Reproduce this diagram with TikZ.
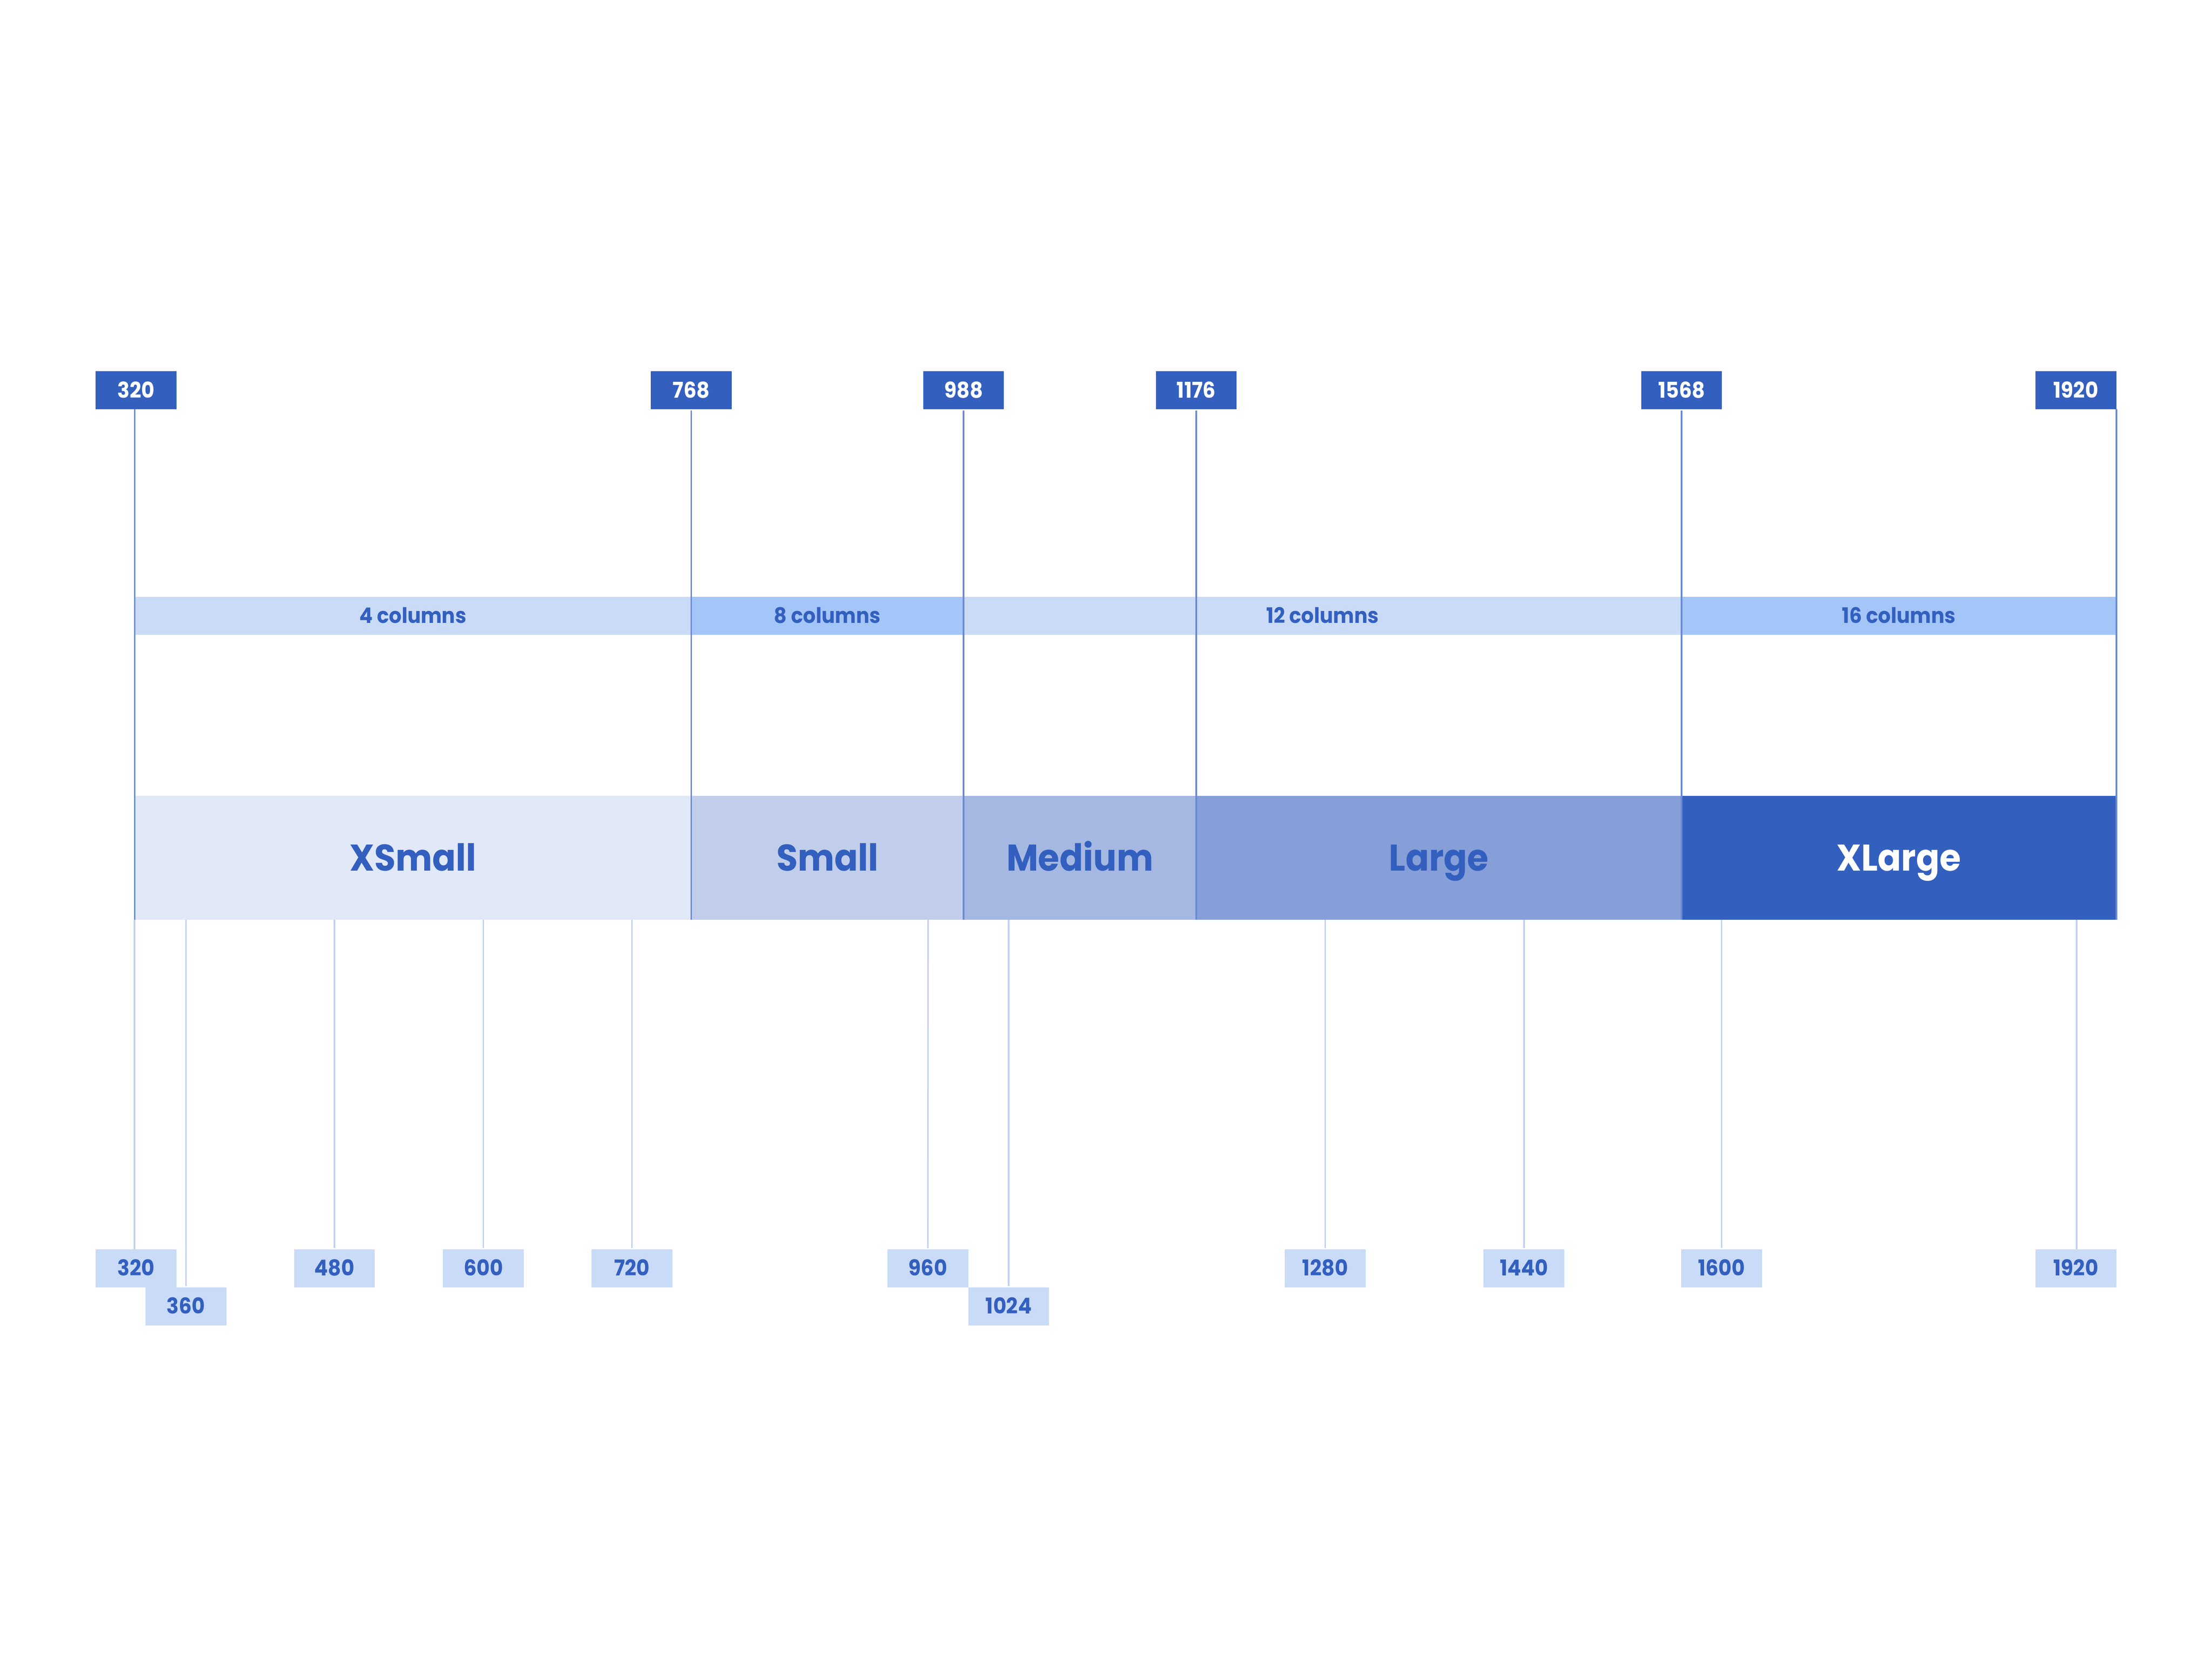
\documentclass[tikz,border=0pt]{standalone}
\usepackage{fontspec}
\setmainfont{Poppins}[FakeStretch=0.93]
\definecolor{cdark}{HTML}{335FBF}
\definecolor{ccolA}{HTML}{C9DBF7}
\definecolor{ccolB}{HTML}{A4C5F8}
\definecolor{cxs}{HTML}{E1E8F7}
\definecolor{csm}{HTML}{C1CEEB}
\definecolor{cmd}{HTML}{A4B8E2}
\definecolor{clg}{HTML}{869FD8}
\definecolor{ctopline}{HTML}{6A8AD4}
\definecolor{cbotline}{HTML}{C3D1EE}
\begin{document}
\begin{tikzpicture}[x=0.01cm,y=-0.01cm,
  topbox/.style={fill=cdark,text=white,font=\bfseries\fontsize{4.4}{5}\selectfont,
    minimum width=0.573cm,minimum height=0.27cm,inner sep=0pt,text height=3.05pt,text depth=0pt},
  botbox/.style={fill=ccolA,text=cdark,font=\bfseries\fontsize{4.4}{5}\selectfont,
    minimum width=0.573cm,minimum height=0.27cm,inner sep=0pt,text height=3.05pt,text depth=0pt},
  collabel/.style={text=cdark,font=\bfseries\fontsize{4.3}{5}\selectfont,
    inner sep=0pt,text height=3.0pt,text depth=0pt},
  sizelabel/.style={text=cdark,font=\bfseries\fontsize{7.5}{9}\selectfont,
    inner sep=0pt,text height=5.25pt,text depth=0pt},
  topline/.style={draw=ctopline,line width=0.35pt},
  botline/.style={draw=cbotline,line width=0.3pt}]
\useasboundingbox[fill=white] (0,0) rectangle (1568,1176);

% column bar
\fill[ccolA] (95.5,422.9) rectangle (490,450);
\fill[ccolB] (490,422.9) rectangle (683,450);
\fill[ccolA] (683,422.9) rectangle (1192,450);
\fill[ccolB] (1192,422.9) rectangle (1500.5,450);

% size bar
\fill[cxs] (95.5,564.2) rectangle (490,652);
\fill[csm] (490,564.2) rectangle (683,652);
\fill[cmd] (683,564.2) rectangle (848,652);
\fill[clg] (848,564.2) rectangle (1192,652);
\fill[cdark] (1192,564.2) rectangle (1500.5,652);

% top breakpoint labels
\node[topbox] (t320) at (96.5,276.7) {320};
\node[topbox] (t768) at (490,276.7) {768};
\node[topbox] (t988) at (683,276.7) {988};
\node[topbox] (t1176) at (848,276.7) {1176};
\node[topbox] (t1568) at (1192,276.7) {1568};
\node[topbox] (t1920) at (1471.5,276.7) {1920};

% bottom ends of top lines
\coordinate (e320) at (95.5,652);
\coordinate (e768) at (490,652);
\coordinate (e988) at (683,652);
\coordinate (e1176) at (848,652);
\coordinate (e1568) at (1192,652);
\coordinate (e1920) at (1500.2,652);
\coordinate (s320) at (95.5,290.2);
\coordinate (s1920) at (1500.2,290.2);

\draw[topline] (s320) -- (e320);
\draw[topline] (t768.south) -- (e768);
\draw[topline] (t988.south) -- (e988);
\draw[topline] (t1176.south) -- (e1176);
\draw[topline] (t1568.south) -- (e1568);
\draw[topline] (s1920) -- (e1920);

% column labels
\node[collabel] (c4) at (292.7,436.5) {4 columns};
\node[collabel] (c8) at (586.5,436.5) {8 columns};
\node[collabel] (c12) at (937.5,436.5) {12 columns};
\node[collabel] (c16) at (1346,436.5) {16 columns};

% size labels
\node[sizelabel] (xs) at (292.7,608) {XSmall};
\node[sizelabel] (sm) at (586.5,608) {Small};
\node[sizelabel] (md) at (765.5,608) {Medium};
\node[sizelabel] (lg) at (1020,608) {Large};
\node[sizelabel,text=white] (xl) at (1346,608) {XLarge};

% bottom labels
\node[botbox] (b320) at (96.4,899) {320};
\node[botbox] (b360) at (131.8,926) {360};
\node[botbox] (b480) at (237.1,899) {480};
\node[botbox] (b600) at (342.7,899) {600};
\node[botbox] (b720) at (448,899) {720};
\node[botbox] (b960) at (657.7,899) {960};
\node[botbox] (b1024) at (715,926) {1024};
\node[botbox] (b1280) at (939.4,899) {1280};
\node[botbox] (b1440) at (1080.3,899) {1440};
\node[botbox] (b1600) at (1220.4,899) {1600};
\node[botbox] (b1920) at (1471.5,899) {1920};

\coordinate (u320) at (95.3,652);
\coordinate (u360) at (131.8,652);
\coordinate (u480) at (237.1,652);
\coordinate (u600) at (342.7,652);
\coordinate (u720) at (448,652);
\coordinate (u960) at (657.9,652);
\coordinate (u1024) at (715,652);
\coordinate (u1280) at (939.4,652);
\coordinate (u1440) at (1080.3,652);
\coordinate (u1600) at (1220.4,652);
\coordinate (u1920) at (1472,652);
\coordinate (w320) at (95.3,885.6);
\coordinate (w1920) at (1472,885.6);

\draw[botline] (u320) -- (w320);
\draw[botline] (u360) -- (b360.north);
\draw[botline] (u480) -- (b480.north);
\draw[botline] (u600) -- (b600.north);
\draw[botline] (u720) -- (b720.north);
\draw[botline] (u960) -- (b960.north);
\draw[botline] (u1024) -- (b1024.north);
\draw[botline] (u1280) -- (b1280.north);
\draw[botline] (u1440) -- (b1440.north);
\draw[botline] (u1600) -- (b1600.north);
\draw[botline] (u1920) -- (w1920);
\end{tikzpicture}
\end{document}
